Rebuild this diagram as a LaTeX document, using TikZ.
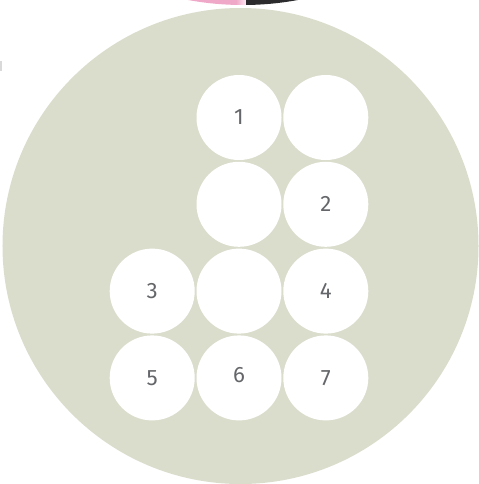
\documentclass[tikz,border=0pt]{standalone}
\usepackage{fontspec}
\setmainfont{Fira Sans}
\definecolor{sage}{RGB}{218,221,204}
\definecolor{rose}{RGB}{240,168,200}
\definecolor{ink}{RGB}{43,43,45}
\definecolor{digit}{RGB}{100,102,105}
\usetikzlibrary{positioning}
\tikzset{
  seat/.style={circle, fill=white, minimum size=25.5mm, inner sep=0pt,
               font=\fontsize{19}{19}\selectfont, text=digit},
}

\begin{document}
\begin{tikzpicture}[x=0.3mm,y=-0.3mm]
    \useasboundingbox (0,0) rectangle (478,484);
    % cut-off plate at the top
    \begin{scope}
      \clip (0,0) rectangle (478,484);
      \clip (243,-295) circle (300);
      \fill[rose] (180,-10) rectangle (236,10);
      \shade[left color=rose, right color=white!75!rose] (236,-10) rectangle (246,10);
      \fill[ink] (246,-10) rectangle (310,10);
    \end{scope}
    \fill[black!15] (0,61) rectangle (1.5,71);
    % plate
    \node[circle, fill=sage, minimum size=142.8mm, inner sep=0pt] (plate) at (240.5,246) {};
    % seats
    \node[seat] (s1) at (239,117.5) {1};
    \node[seat, right=0.4mm of s1] (e1) {};
    \node[seat, below=0.4mm of s1] (e2) {};
    \node[seat, right=0.4mm of e2] (s2) {2};
    \node[seat, below=0.4mm of e2] (e3) {};
    \node[seat, left=0.4mm of e3] (s3) {3};
    \node[seat, right=0.4mm of e3] (s4) {4};
    \node[seat, below=0.4mm of s3] (s5) {5};
    \node[seat, below=0.4mm of e3, text depth=2mm] (s6) {6};
    \node[seat, below=0.4mm of s4] (s7) {7};
\end{tikzpicture}
\end{document}
